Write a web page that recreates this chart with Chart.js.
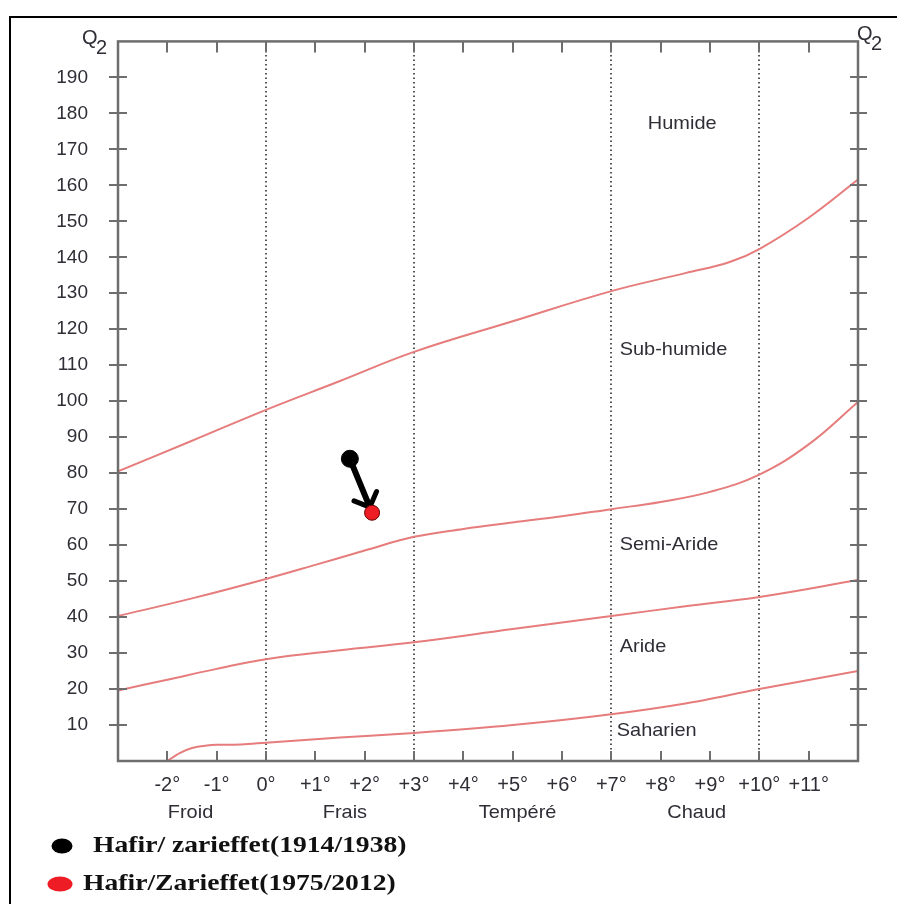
<!DOCTYPE html>
<html>
<head>
<meta charset="utf-8">
<script src="https://cdn.jsdelivr.net/npm/chart.js@4.4.0/dist/chart.umd.min.js"></script>
<style>
  body { margin: 0; background: #fff; }
  canvas { display: block; }
</style>
</head>
<body>
<canvas id="climagramme" width="897" height="904"></canvas>
<script>
// Emberger limit curves (x = m in °C, y = Q2)
const curveHumideX = [-3, -1.5, 0, 1.5, 3, 5, 7, 8.5, 9.4, 10, 11, 12]
const curveHumideQ = [80.5, 89, 97.6, 105.6, 113.7, 122.2, 130.6, 135.6, 138.7, 142.3, 151, 161.6]

const curveSemiX = [-3, -1.5, 0, 1, 2, 3, 4, 5, 6, 7, 8, 9, 10, 11, 12]
const curveSemiQ = [40.3, 45.2, 50.6, 54.5, 58.5, 62.3, 64.5, 66.3, 68, 70, 72, 74.8, 79.6, 88, 99.8]

const curveArideX = [-3, -2, -1, 0, 1.5, 3, 5, 7, 8.5, 10, 12]
const curveArideQ = [19.6, 22.6, 25.6, 28.3, 30.8, 33, 36.7, 40.3, 43, 45.6, 50.3]

const curveSahaX = [-2, -1.75, -1.5, -1.2, -1, -0.5, 0, 1.5, 3, 5, 7, 8.5, 10, 12]
const curveSahaQ = [0, 2.2, 3.6, 4.3, 4.5, 4.6, 5.1, 6.5, 7.8, 10, 13, 16, 20, 25]

// stations
const stationNames = ['Hafir/ zarieffet(1914/1938)', 'Hafir/Zarieffet(1975/2012)']
const stationM = [1.7, 2.15]
const stationQ = [84, 69]

// labels
const zoneNames = ['Humide', 'Sub-humide', 'Semi-Aride', 'Aride', 'Saharien']
const zoneX = [7.74, 7.17, 7.17, 7.17, 7.11]
const zoneQ = [177.2, 114.4, 60.1, 31.7, 8.3]

const winterNames = ['Froid', 'Frais', 'Tempéré', 'Chaud']
const winterX = [-1.53, 1.6, 5.1, 8.73]
const winterBounds = [0, 3, 7, 10]

const toPoints = (xs, ys) => xs.map((x, i) => ({ x: x, y: ys[i] }))

const curveStyle = {
    type: 'line',
    borderColor: '#e67c7c',
    borderWidth: 2,
    pointRadius: 0,
    fill: false,
    tension: 0.4
}

const stretchText = (ctx, txt, x, y, sx) => {
    ctx.save()
    ctx.translate(x, y)
    ctx.scale(sx, 1)
    ctx.fillText(txt, 0, 0)
    ctx.restore()
}

const climagramPlugin = {
    id: 'climagram',
    beforeDraw(chart) {
        const ctx = chart.ctx
        ctx.save()
        ctx.fillStyle = '#fff'
        ctx.fillRect(0, 0, chart.width, chart.height)
        // outer frame
        ctx.strokeStyle = '#000'
        ctx.lineWidth = 2
        ctx.beginPath()
        ctx.moveTo(10, chart.height + 2)
        ctx.lineTo(10, 17)
        ctx.lineTo(chart.width + 2, 17)
        ctx.stroke()
        ctx.restore()
    },
    beforeDatasetsDraw(chart) {
        const ctx = chart.ctx
        const a = chart.chartArea
        const xs = chart.scales.x
        ctx.save()
        ctx.strokeStyle = '#555'
        ctx.lineWidth = 2
        ctx.setLineDash([1.6, 2.9])
        winterBounds.forEach(v => {
            const px = Math.round(xs.getPixelForValue(v))
            ctx.beginPath()
            ctx.moveTo(px, a.top)
            ctx.lineTo(px, a.bottom)
            ctx.stroke()
        })
        ctx.restore()

        // arrow between the two stations
        const ys = chart.scales.y
        const x0 = xs.getPixelForValue(stationM[0]), y0 = ys.getPixelForValue(stationQ[0])
        const x1 = xs.getPixelForValue(stationM[1]), y1 = ys.getPixelForValue(stationQ[1])
        const ang = Math.atan2(y1 - y0, x1 - x0)
        const tx = x1 - Math.cos(ang) * 6, ty = y1 - Math.sin(ang) * 6
        ctx.save()
        ctx.strokeStyle = '#000'
        ctx.lineWidth = 6
        ctx.lineCap = 'round'
        ctx.lineJoin = 'round'
        ctx.beginPath()
        ctx.moveTo(x0, y0)
        ctx.lineTo(tx, ty)
        ctx.stroke()
        ctx.lineWidth = 5
        ctx.beginPath()
        ctx.moveTo(tx - Math.cos(ang - 0.8) * 17, ty - Math.sin(ang - 0.8) * 17)
        ctx.lineTo(tx, ty)
        ctx.lineTo(tx - Math.cos(ang + 0.8) * 17, ty - Math.sin(ang + 0.8) * 17)
        ctx.stroke()
        ctx.restore()
    },
    afterDraw(chart) {
        const ctx = chart.ctx
        const a = chart.chartArea
        const xs = chart.scales.x
        const ys = chart.scales.y
        ctx.save()

        // axes box
        ctx.strokeStyle = '#6e6e6e'
        ctx.lineWidth = 2.5
        ctx.strokeRect(a.left, a.top, a.right - a.left, a.bottom - a.top)

        // tick marks
        ctx.lineWidth = 2
        xs.ticks.forEach(t => {
            if (t.value <= -3 || t.value >= 12) return
            const px = Math.round(xs.getPixelForValue(t.value))
            ctx.beginPath()
            ctx.moveTo(px, a.top)
            ctx.lineTo(px, a.top + 11)
            ctx.moveTo(px, a.bottom)
            ctx.lineTo(px, a.bottom - 10)
            ctx.stroke()
        })
        ys.ticks.forEach(t => {
            if (t.value <= 0 || t.value >= 200) return
            const py = Math.round(ys.getPixelForValue(t.value))
            ctx.beginPath()
            ctx.moveTo(a.left - 9, py)
            ctx.lineTo(a.left + 9, py)
            ctx.moveTo(a.right - 8, py)
            ctx.lineTo(a.right + 9, py)
            ctx.stroke()
        })

        // zone names
        ctx.fillStyle = '#2e2e36'
        ctx.font = '19px "Liberation Sans", Arial, sans-serif'
        ctx.textBaseline = 'middle'
        ctx.textAlign = 'left'
        zoneNames.forEach((n, i) => {
            stretchText(ctx, n, xs.getPixelForValue(zoneX[i]), ys.getPixelForValue(zoneQ[i]), 1.05)
        })

        // winter classes under the axis
        ctx.textAlign = 'center'
        winterNames.forEach((n, i) => {
            stretchText(ctx, n, xs.getPixelForValue(winterX[i]), a.bottom + 52, 1.05)
        })

        // Q2 labels
        ctx.textAlign = 'left'
        ctx.font = '20px "Liberation Sans", Arial, sans-serif'
        ctx.fillText('Q', 82, 38)
        ctx.fillText('2', 96, 48)
        ctx.fillText('Q', 857, 34)
        ctx.fillText('2', 871, 44)

        // legend
        const legendY = [846, 884]
        const legendTextX = [93, 83]
        const dotColors = ['#000', '#ee1c24']
        const dotX = [62, 60]
        const dotRx = [10.5, 12.5]
        ctx.font = 'bold 23px "Liberation Serif", "Times New Roman", serif'
        stationNames.forEach((n, i) => {
            ctx.fillStyle = dotColors[i]
            ctx.beginPath()
            ctx.ellipse(dotX[i], legendY[i], dotRx[i], 7.5, 0, 0, Math.PI * 2)
            ctx.fill()
            ctx.fillStyle = '#111'
            stretchText(ctx, n, legendTextX[i], legendY[i], 1.2)
        })
        ctx.restore()
    }
}

new Chart(document.getElementById('climagramme'), {
    type: 'scatter',
    data: {
        datasets: [
            { ...curveStyle, label: 'Humide', data: toPoints(curveHumideX, curveHumideQ) },
            { ...curveStyle, label: 'Semi-aride', data: toPoints(curveSemiX, curveSemiQ) },
            { ...curveStyle, label: 'Aride', data: toPoints(curveArideX, curveArideQ) },
            { ...curveStyle, label: 'Saharien', data: toPoints(curveSahaX, curveSahaQ), cubicInterpolationMode: 'monotone' },
            {
                label: stationNames[0],
                data: [{ x: stationM[0], y: stationQ[0] }],
                pointRadius: 8.5,
                backgroundColor: '#000',
                borderColor: '#000'
            },
            {
                label: stationNames[1],
                data: [{ x: stationM[1], y: stationQ[1] }],
                pointRadius: 7.5,
                backgroundColor: '#ee1c24',
                borderColor: '#600',
                borderWidth: 1
            }
        ]
    },
    options: {
        responsive: false,
        animation: false,
        layout: { padding: { top: 41, right: 39, left: 0, bottom: 0 } },
        plugins: {
            legend: { display: false },
            tooltip: { enabled: false }
        },
        scales: {
            x: {
                type: 'linear',
                min: -3,
                max: 12,
                afterFit: s => { s.height = 143 },
                grid: { display: false, drawTicks: false },
                border: { display: false },
                ticks: {
                    stepSize: 1,
                    autoSkip: false,
                    maxRotation: 0,
                    padding: 12,
                    color: '#2e2e36',
                    font: { family: '"Liberation Sans", Arial, sans-serif', size: 20 },
                    callback: v => (v < -2 || v > 11) ? '' : (v > 0 ? '+' : '') + v + '°'
                }
            },
            y: {
                min: 0,
                max: 200,
                afterFit: s => { s.width = 118 },
                grid: { display: false, drawTicks: false },
                border: { display: false },
                ticks: {
                    stepSize: 10,
                    padding: 30,
                    color: '#2e2e36',
                    font: { family: '"Liberation Sans", Arial, sans-serif', size: 19 },
                    callback: v => (v === 0 || v === 200) ? '' : v
                }
            }
        }
    },
    plugins: [climagramPlugin]
})
</script>
</body>
</html>
